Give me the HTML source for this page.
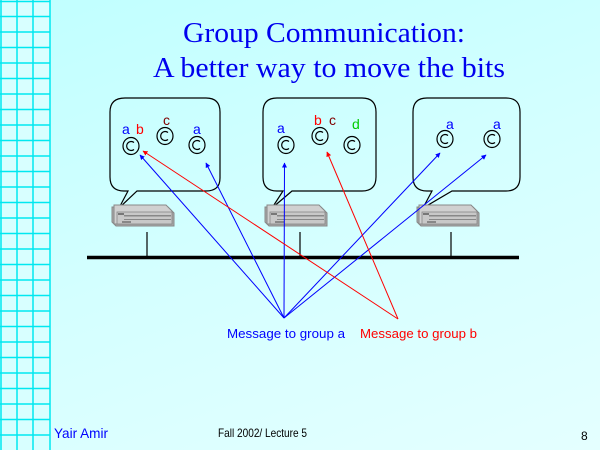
<!DOCTYPE html>
<html><head><meta charset="utf-8"><style>
html,body{margin:0;padding:0}
body{width:600px;height:450px;overflow:hidden;background:linear-gradient(160deg,#c0ffff 0%,#d4ffff 50%,#e4ffff 100%)}
svg{display:block}
</style></head><body>
<svg width="600" height="450" xmlns="http://www.w3.org/2000/svg" font-family="Liberation Sans, sans-serif">
<defs>
<marker id="ab" viewBox="0 0 10 10" refX="9" refY="5" markerWidth="5" markerHeight="5" orient="auto"><path d="M0,0L10,5L0,10z" fill="#0000ff"/></marker>
<marker id="ar" viewBox="0 0 10 10" refX="9" refY="5" markerWidth="5" markerHeight="5" orient="auto"><path d="M0,0L10,5L0,10z" fill="#ff0000"/></marker>
<g id="srv">
<path d="M0,3 L56,3 L62,9 L62,22 L4,22 L0,18Z" fill="#aaa" stroke="#888"/>
<path d="M2,1 L54,1 L60,7 L60,20 L2,20Z" fill="#d0d0d0" stroke="#888"/>
<rect x="5" y="8" width="55" height="12" fill="#c8c8c8" stroke="#888" stroke-width="0.8"/>
<rect x="6" y="9" width="6" height="2" fill="#777"/>
<rect x="12" y="11" width="47" height="1.5" fill="#888"/>
<rect x="12" y="15" width="47" height="1" fill="#888"/>
<rect x="10" y="17" width="9" height="2" fill="#888"/>
</g>
<g id="pr"><ellipse rx="8" ry="8.5" fill="none" stroke="#000" stroke-width="1.2"/><path d="M3,-3.5 A4.5,4.5 0 1 0 3,3.5" fill="none" stroke="#000" stroke-width="1.2"/></g>
</defs>
<rect x="0" y="0" width="50" height="450" fill="#d8ffff"/>
<g stroke="#00e8f0" stroke-width="1.5">
<line x1="1" y1="0" x2="1" y2="450"/><line x1="17" y1="0" x2="17" y2="450"/><line x1="33" y1="0" x2="33" y2="450"/><line x1="50" y1="0" x2="50" y2="450"/>
<line x1="0" y1="1.5" x2="50" y2="1.5"/><line x1="0" y1="16.5" x2="50" y2="16.5"/><line x1="0" y1="32" x2="50" y2="32"/><line x1="0" y1="47.5" x2="50" y2="47.5"/><line x1="0" y1="63" x2="50" y2="63"/><line x1="0" y1="78.5" x2="50" y2="78.5"/><line x1="0" y1="94" x2="50" y2="94"/><line x1="0" y1="109.5" x2="50" y2="109.5"/><line x1="0" y1="125" x2="50" y2="125"/><line x1="0" y1="140.5" x2="50" y2="140.5"/><line x1="0" y1="156" x2="50" y2="156"/><line x1="0" y1="171.5" x2="50" y2="171.5"/><line x1="0" y1="187" x2="50" y2="187"/><line x1="0" y1="202.5" x2="50" y2="202.5"/><line x1="0" y1="218" x2="50" y2="218"/><line x1="0" y1="233.5" x2="50" y2="233.5"/><line x1="0" y1="249" x2="50" y2="249"/><line x1="0" y1="264.5" x2="50" y2="264.5"/><line x1="0" y1="280" x2="50" y2="280"/><line x1="0" y1="295.5" x2="50" y2="295.5"/><line x1="0" y1="311" x2="50" y2="311"/><line x1="0" y1="326.5" x2="50" y2="326.5"/><line x1="0" y1="342" x2="50" y2="342"/><line x1="0" y1="357.5" x2="50" y2="357.5"/><line x1="0" y1="373" x2="50" y2="373"/><line x1="0" y1="388.5" x2="50" y2="388.5"/><line x1="0" y1="404" x2="50" y2="404"/><line x1="0" y1="419.5" x2="50" y2="419.5"/><line x1="0" y1="435" x2="50" y2="435"/>
</g>
<g font-family="Liberation Serif, serif" font-size="29" fill="#0000ee">
<text x="183" y="42" textLength="282" lengthAdjust="spacingAndGlyphs">Group Communication:</text>
<text x="153" y="77" textLength="352" lengthAdjust="spacingAndGlyphs">A better way to move the bits</text>
</g>
<g fill="none" stroke="#000" stroke-width="1.2">
<path d="M125,98 H206 Q220,98 220,112 V178 Q220,191 206,191 H137 L119,208 L128,191 H124 Q110,191 110,177 V112 Q110,98 125,98Z"/>
<path d="M277,98 H362 Q376,98 376,112 V177 Q376,191 362,191 H292 L272,208 L283,191 H277 Q263,191 263,177 V112 Q263,98 277,98Z"/>
<path d="M427,98 H506 Q520,98 520,112 V177 Q520,191 506,191 H452 L423,208 L432,191 H427 Q413,191 413,177 V112 Q413,98 427,98Z"/>
</g>
<use href="#srv" x="112" y="204"/>
<use href="#srv" x="265" y="204"/>
<use href="#srv" x="417" y="204"/>
<g stroke="#000" stroke-width="1.2"><line x1="147" y1="232" x2="147" y2="257"/><line x1="300" y1="232" x2="300" y2="257"/><line x1="451" y1="232" x2="451" y2="257"/></g>
<line x1="87" y1="257.5" x2="519" y2="257.5" stroke="#000" stroke-width="3.5"/>
<use href="#pr" x="131" y="146"/><use href="#pr" x="165" y="136"/><use href="#pr" x="197" y="145"/>
<use href="#pr" x="286" y="145"/><use href="#pr" x="320" y="136"/><use href="#pr" x="352" y="145"/>
<use href="#pr" x="445" y="139"/><use href="#pr" x="492" y="139"/>
<g font-size="14">
<text x="122" y="134" fill="#0000ff">a</text><text x="136" y="134" fill="#ff0000">b</text>
<text x="163" y="125" fill="#800000">c</text><text x="193" y="134" fill="#0000ff">a</text>
<text x="277" y="133" fill="#0000ff">a</text><text x="314" y="125" fill="#ff0000">b</text><text x="329" y="125" fill="#800000">c</text><text x="352" y="129" fill="#00cc00">d</text>
<text x="446" y="129" fill="#0000ff">a</text><text x="493" y="129" fill="#0000ff">a</text>
</g>
<g stroke="#0000ff" stroke-width="1" marker-end="url(#ab)">
<line x1="284" y1="318" x2="140" y2="155"/>
<line x1="284" y1="318" x2="206" y2="163"/>
<line x1="284" y1="318" x2="284.5" y2="163"/>
<line x1="284" y1="318" x2="440" y2="153"/>
<line x1="284" y1="318" x2="486" y2="155"/>
</g>
<g stroke="#ff0000" stroke-width="1" marker-end="url(#ar)">
<line x1="398" y1="319" x2="143" y2="151"/>
<line x1="398" y1="319" x2="327" y2="152"/>
</g>
<text x="227" y="338" font-size="13" fill="#0000ff" textLength="118" lengthAdjust="spacingAndGlyphs">Message to group a</text>
<text x="360" y="338" font-size="13" fill="#ff0000" textLength="117" lengthAdjust="spacingAndGlyphs">Message to group b</text>
<text x="54" y="438" font-size="14" fill="#0000ff" textLength="54" lengthAdjust="spacingAndGlyphs">Yair Amir</text>
<text x="218" y="437" font-size="12" fill="#000" textLength="89" lengthAdjust="spacingAndGlyphs">Fall 2002/ Lecture 5</text>
<text x="581" y="440" font-size="12" fill="#000">8</text>
</svg>
</body></html>
